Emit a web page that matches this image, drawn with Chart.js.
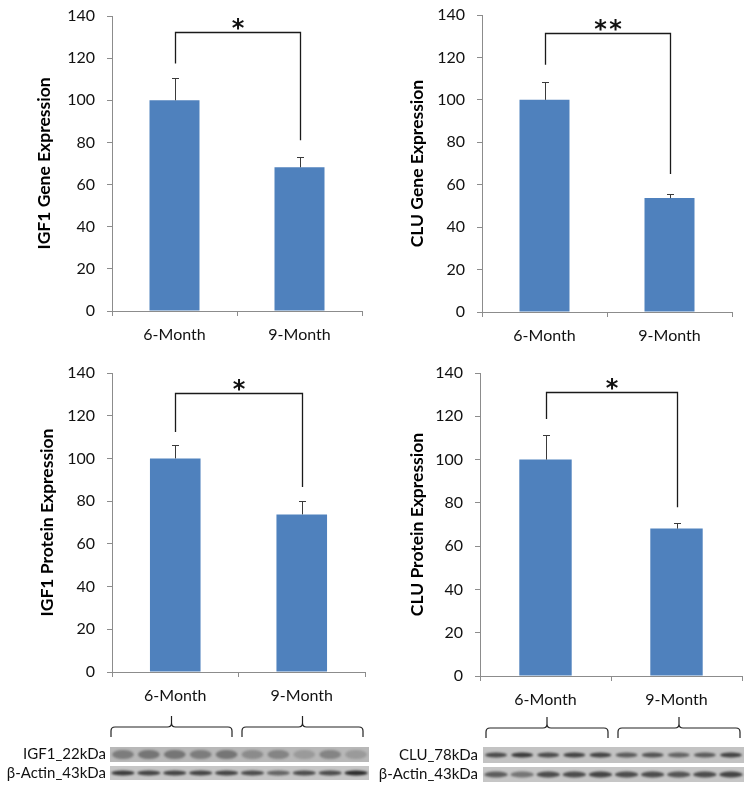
<!DOCTYPE html>
<html>
<head>
<meta charset="utf-8">
<script src="https://cdn.jsdelivr.net/npm/chart.js@4.4.1/dist/chart.umd.min.js"></script>
<style>
  body { margin: 0; background: #fff; width: 751px; height: 794px; position: relative; overflow: hidden; }
  .box { position: absolute; }
</style>
</head>
<body>
<div class="box" style="left:0;top:0;width:375px;height:345px"><canvas id="c1"></canvas></div>
<div class="box" style="left:375px;top:0;width:376px;height:345px"><canvas id="c2"></canvas></div>
<div class="box" style="left:0;top:345px;width:375px;height:449px"><canvas id="c3"></canvas></div>
<div class="box" style="left:375px;top:345px;width:376px;height:449px"><canvas id="c4"></canvas></div>
<script>
// categorias y valores
const categories = ['6-Month', '9-Month'];

const igf1GeneMean = [100, 68.2];
const igf1GeneErr = [10.4, 4.7];
const igf1GeneBracket = [132.4, 117.5, 81];   // [arriba, pata izq, pata der]

const cluGeneMean = [100, 53.7];
const cluGeneErr = [8.4, 1.9];
const cluGeneBracket = [131.5, 116.5, 65];

const igf1ProtMean = [100, 73.8];
const igf1ProtErr = [6.4, 6.2];
const igf1ProtBracket = [130.6, 112.4, 86.6];

const cluProtMean = [100, 68.1];
const cluProtErr = [11.4, 2.6];
const cluProtBracket = [131.2, 118.8, 78];

// western blots: intensidad de banda por carril (0-1)
const igf1Bands = [0.4, 0.45, 0.45, 0.4, 0.45, 0.3, 0.35, 0.2, 0.35, 0.2];
const actinBandsIgf1 = [0.85, 0.8, 0.8, 0.8, 0.8, 0.75, 0.6, 0.75, 0.75, 0.95];
const cluBands = [0.75, 0.85, 0.75, 0.8, 0.8, 0.65, 0.7, 0.6, 0.65, 0.8];
const actinBandsClu = [0.65, 0.5, 0.75, 0.75, 0.8, 0.75, 0.75, 0.7, 0.75, 0.8];
const blotLabelsIgf1 = ['IGF1_22kDa', 'β-Actin_43kDa'];
const blotLabelsClu = ['CLU_78kDa', 'β-Actin_43kDa'];

const FONT = 'Lato';
const AXIS = '#8c8c8c';

function drawBrace(ctx, x0, x1, y) {
  const mid = (x0 + x1) / 2, r = 4;
  ctx.beginPath();
  ctx.moveTo(x0, y + 10);
  ctx.lineTo(x0, y + r);
  ctx.quadraticCurveTo(x0, y, x0 + r, y);
  ctx.lineTo(mid - r, y);
  ctx.quadraticCurveTo(mid, y, mid, y - r);
  ctx.lineTo(mid, y - 11);
  ctx.moveTo(mid, y - r);
  ctx.quadraticCurveTo(mid, y, mid + r, y);
  ctx.lineTo(x1 - r, y);
  ctx.quadraticCurveTo(x1, y, x1, y + r);
  ctx.lineTo(x1, y + 10);
  ctx.stroke();
}

const annot = {
  id: 'annot',
  afterDatasetsDraw(chart, args, opts) {
    const ctx = chart.ctx, x = chart.scales.x, y = chart.scales.y;
    const meta = chart.getDatasetMeta(0);
    const data = chart.data.datasets[0].data;
    ctx.save();
    // barras de error (solo hacia arriba)
    ctx.strokeStyle = '#3a3a3a';
    ctx.lineWidth = 1;
    opts.err.forEach((e, i) => {
      const cx = Math.round(meta.data[i].x) + 0.5;
      const top = Math.round(y.getPixelForValue(data[i] + e)) + 0.5;
      const base = y.getPixelForValue(data[i]);
      ctx.beginPath();
      ctx.moveTo(cx, base);
      ctx.lineTo(cx, top);
      ctx.moveTo(cx - 3.5, top);
      ctx.lineTo(cx + 3.5, top);
      ctx.stroke();
    });
    // corchete de significancia
    const [bt, bl, br] = opts.bracket;
    const lx = Math.round(x.getPixelForValue(0)) + 0.5;
    const rx = Math.round(x.getPixelForValue(1)) + 0.5;
    const ty = Math.round(y.getPixelForValue(bt)) + 0.5;
    ctx.strokeStyle = '#1a1a1a';
    ctx.lineWidth = 1.3;
    ctx.beginPath();
    ctx.moveTo(lx, y.getPixelForValue(bl));
    ctx.lineTo(lx, ty);
    ctx.lineTo(rx, ty);
    ctx.lineTo(rx, y.getPixelForValue(br));
    ctx.stroke();
    ctx.fillStyle = '#111';
    ctx.font = 'bold 24px "DejaVu Sans"';
    ctx.textAlign = 'center';
    ctx.textBaseline = 'alphabetic';
    const sx = (lx + rx) / 2;
    if (opts.star.length > 1) {
      // dos asteriscos con un pequeño hueco
      ctx.fillText(opts.star[0], sx - 7.5, ty + 3);
      ctx.fillText(opts.star[1], sx + 7.5, ty + 3);
    } else {
      ctx.fillText(opts.star, sx, ty + 3);
    }
    ctx.restore();
  },
  afterDraw(chart, args, opts) {
    const b = opts.blot;
    if (!b) return;
    const ctx = chart.ctx;
    ctx.save();
    ctx.strokeStyle = '#222';
    ctx.lineWidth = 1.2;
    b.braces.forEach(br => drawBrace(ctx, br[0], br[1], b.braceY));
    b.rows.forEach(row => {
      const w = b.x1 - b.x0;
      ctx.fillStyle = row.bg;
      ctx.fillRect(b.x0, row.y0, w, row.h);
      const lw = w / row.bands.length;
      ctx.filter = 'blur(1.3px)';
      row.bands.forEach((v, i) => {
        const cx = b.x0 + lw * (i + 0.5);
        ctx.fillStyle = `rgba(35,35,35,${v})`;
        ctx.beginPath();
        ctx.ellipse(cx, row.y0 + row.h / 2, lw * row.bandW, row.bandH / 2, 0, 0, Math.PI * 2);
        ctx.fill();
      });
      ctx.filter = 'none';
      ctx.fillStyle = '#111';
      ctx.font = '15px ' + FONT;
      ctx.textAlign = 'right';
      ctx.textBaseline = 'middle';
      ctx.fillText(row.label, b.labelX, row.y0 + row.h / 2);
    });
    ctx.restore();
  }
};

function makeChart(id, cfg) {
  const ctx = document.getElementById(id).getContext('2d');
  return new Chart(ctx, {
    type: 'bar',
    data: {
      labels: categories,
      datasets: [{
        data: cfg.mean,
        backgroundColor: '#4f81bd',
        borderWidth: 0,
        barPercentage: 0.4,
        categoryPercentage: 1
      }]
    },
    options: {
      responsive: true,
      maintainAspectRatio: false,
      animation: false,
      events: [],
      layout: { padding: { top: cfg.top, right: cfg.right, left: 0, bottom: 0 } },
      scales: {
        x: {
          grid: { offset: true, drawOnChartArea: false, tickLength: 5, color: AXIS },
          border: { color: AXIS, width: 1 },
          ticks: { color: '#111', font: { family: FONT, size: 16 }, padding: 9 },
          afterFit: (s) => { s.height = cfg.xHeight; }
        },
        y: {
          min: 0,
          max: 140,
          grid: { drawOnChartArea: false, tickLength: 5, color: AXIS },
          border: { color: AXIS, width: 1 },
          ticks: { stepSize: 20, color: '#111', font: { family: FONT, size: 16 }, padding: 12 },
          title: {
            display: true,
            text: cfg.title,
            color: '#000',
            font: { family: FONT, size: 17.5, weight: 'bold' },
            padding: { top: cfg.titlePad, bottom: 0 }
          },
          afterFit: (s) => {
            s.width = cfg.yWidth;
            // que el padding de las etiquetas no empuje el area del grafico
            s.paddingTop = 8;
            s.paddingBottom = 8;
          }
        }
      },
      plugins: {
        legend: { display: false },
        tooltip: { enabled: false },
        annot: { err: cfg.err, bracket: cfg.bracket, star: cfg.star, blot: cfg.blot }
      }
    },
    plugins: [annot]
  });
}

makeChart('c1', {
  mean: igf1GeneMean, err: igf1GeneErr, bracket: igf1GeneBracket, star: '*',
  title: 'IGF1 Gene Expression', titlePad: 34,
  top: 16, right: 13, yWidth: 112, xHeight: 34
});

makeChart('c2', {
  mean: cluGeneMean, err: cluGeneErr, bracket: cluGeneBracket, star: '**',
  title: 'CLU Gene Expression', titlePad: 32,
  top: 15, right: 19, yWidth: 107, xHeight: 33
});

makeChart('c3', {
  mean: igf1ProtMean, err: igf1ProtErr, bracket: igf1ProtBracket, star: '*',
  title: 'IGF1 Protein Expression', titlePad: 37,
  top: 28, right: 10, yWidth: 112, xHeight: 122,
  blot: {
    x0: 110, x1: 369, labelX: 106, braceY: 382,
    braces: [[111, 232], [242, 363]],
    rows: [
      { label: blotLabelsIgf1[0], bands: igf1Bands, y0: 402, h: 15, bandH: 9, bandW: 0.42, bg: '#b8b8b8' },
      { label: blotLabelsIgf1[1], bands: actinBandsIgf1, y0: 421, h: 14, bandH: 5, bandW: 0.45, bg: '#c6c6c6' }
    ]
  }
});

makeChart('c4', {
  mean: cluProtMean, err: cluProtErr, bracket: cluProtBracket, star: '*',
  title: 'CLU Protein Expression', titlePad: 32,
  top: 28, right: 9, yWidth: 105, xHeight: 118,
  blot: {
    x0: 108, x1: 369, labelX: 103, braceY: 383,
    braces: [[111, 233], [243, 365]],
    rows: [
      { label: blotLabelsClu[0], bands: cluBands, y0: 402, h: 16, bandH: 5, bandW: 0.42, bg: '#c3c3c3' },
      { label: blotLabelsClu[1], bands: actinBandsClu, y0: 422, h: 15, bandH: 6, bandW: 0.45, bg: '#c6c6c6' }
    ]
  }
});
</script>
</body>
</html>
